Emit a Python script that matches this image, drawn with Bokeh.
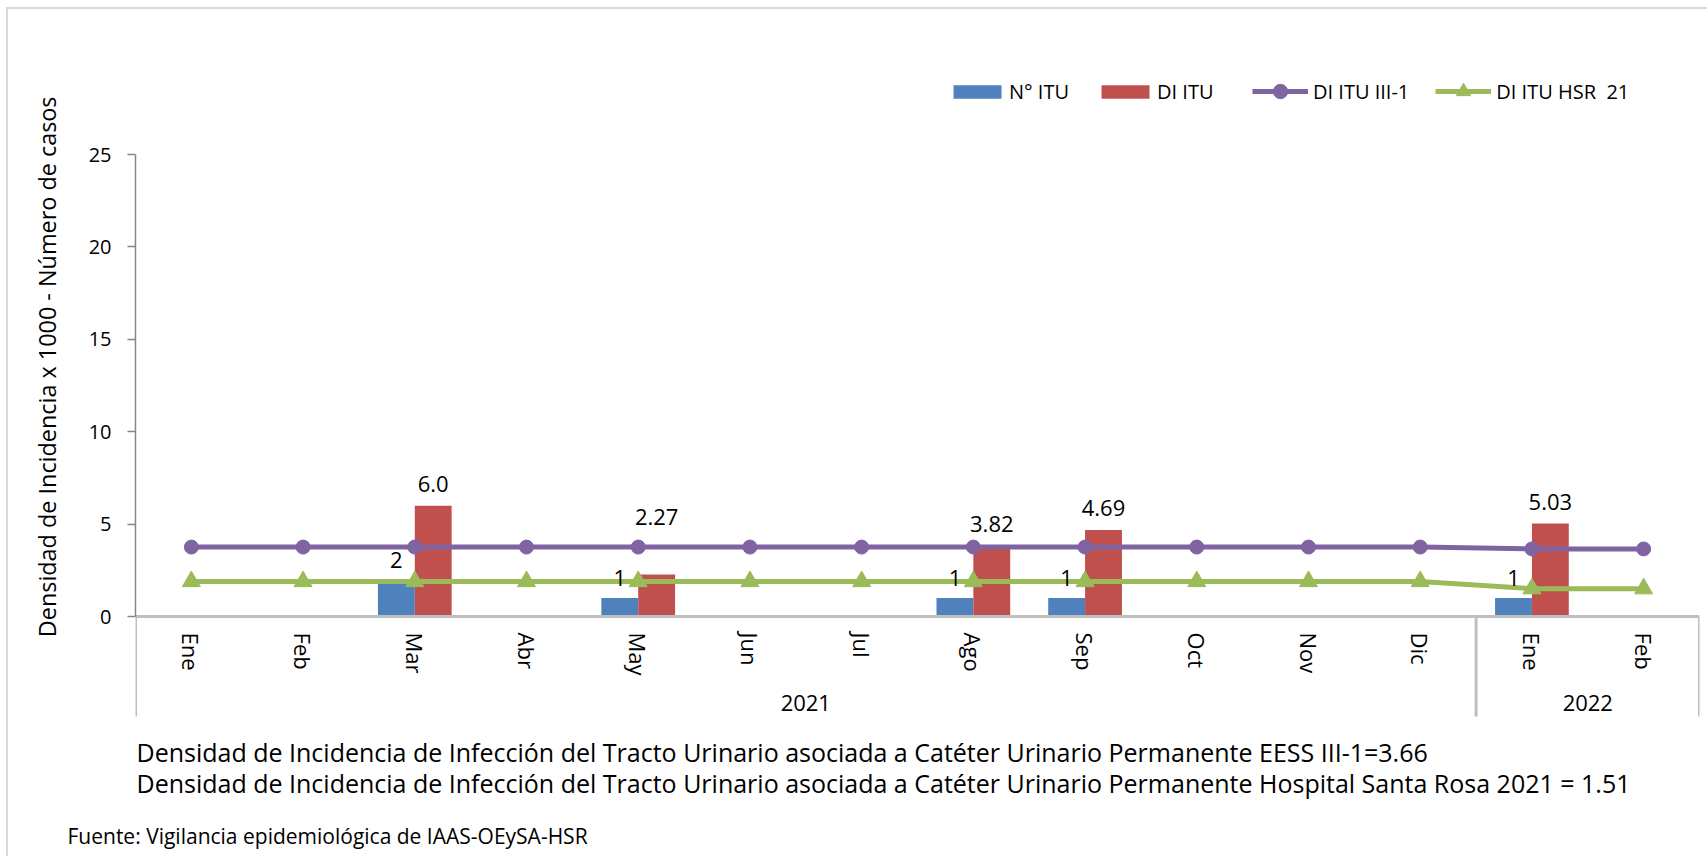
from bokeh.plotting import figure
from bokeh.models import (ColumnDataSource, FactorRange, Range1d, FixedTicker, Legend,
                          LegendItem, Label, CategoricalAxis, LinearAxis, Title)
from bokeh.transform import dodge
from bokeh.core.properties import value
from bokeh.embed import file_html
from bokeh.resources import INLINE

# ---------------- data ----------------
years = ["2021", "2021", "2021", "2021", "2021", "2021", "2021", "2021", "2021", "2021",
         "2021", "2021", "2022", "2022"]
months = ["Ene", "Feb", "Mar", "Abr", "May", "Jun", "Jul", "Ago", "Sep", "Oct", "Nov",
          "Dic", "Ene", "Feb"]
n_itu = [0, 0, 2, 0, 1, 0, 0, 1, 1, 0, 0, 0, 1, 0]
di_itu = [0, 0, 6.0, 0, 2.27, 0, 0, 3.82, 4.69, 0, 0, 0, 5.03, 0]
di_itu_label = ["", "", "6.0", "", "2.27", "", "", "3.82", "4.69", "", "", "", "5.03", ""]
di_itu_iii1 = [3.76, 3.76, 3.76, 3.76, 3.76, 3.76, 3.76, 3.76, 3.76, 3.76, 3.76, 3.76,
               3.66, 3.66]
di_itu_hsr21 = [1.90, 1.90, 1.90, 1.90, 1.90, 1.90, 1.90, 1.90, 1.90, 1.90, 1.90, 1.90,
                1.51, 1.51]
series_names = ["N° ITU", "DI ITU", "DI ITU III-1", "DI ITU HSR  21"]
y_ticks = [0, 5, 10, 15, 20, 25]
y_title = "Densidad de Incidencia x 1000 - Número de casos"
notes = [
    "Densidad de Incidencia de Infección del Tracto Urinario asociada a  Catéter Urinario Permanente  EESS III-1=3.66",
    "Densidad de Incidencia de Infección del Tracto Urinario asociada a  Catéter Urinario Permanente  Hospital Santa Rosa 2021 = 1.51",
]
source_note = "Fuente: Vigilancia epidemiológica de IAAS-OEySA-HSR"

# ---------------- layout / style ----------------
FONT = "Open Sans"
C_BLUE, C_RED, C_PURPLE, C_GREEN = "#4F81BD", "#C0504D", "#8064A2", "#9BBB59"
SEP = "#BFBFBF"
FRAME_BOTTOM_PX = 814
Y_TOP = 31.71      # frame extends above the value axis to hold the legend
Y_BOTTOM = -10.71  # frame extends below to hold the notes
Y_SEP = -5.41      # bottom of the category label block
di_label_offset = [-22, -22, -22, -22, -58, -22, -22, -22, -22, -22, -22, -22, -22, -22]

factors = list(zip(years, months))
src = ColumnDataSource(dict(x=factors, n=n_itu, di=di_itu, iii=di_itu_iii1, hsr=di_itu_hsr21))

xr = FactorRange(factors=factors, factor_padding=0, group_padding=0, subgroup_padding=0,
                 range_padding=0)
p = figure(width=1707, height=856, x_range=xr, y_range=Range1d(Y_BOTTOM, Y_TOP),
           output_backend="svg", toolbar_location=None,
           x_axis_location=None, y_axis_location=None,
           min_border_left=135, min_border_right=8, min_border_top=30,
           min_border_bottom=856 - FRAME_BOTTOM_PX)
p.outline_line_color = None
p.background_fill_color = "white"
p.border_fill_color = None
p.styles = {"background": "linear-gradient(#d9d9d9,#d9d9d9) 6px 7px / 2px 100% no-repeat, "
                          "linear-gradient(#d9d9d9,#d9d9d9) 6px 7px / 100% 2px no-repeat, white"}
p.grid.visible = False

# value axis
yaxis = LinearAxis(ticker=FixedTicker(ticks=y_ticks), bounds=(0, 25))
yaxis.axis_line_color = "#868686"
yaxis.axis_line_width = 1.5
yaxis.major_tick_line_color = "#868686"
yaxis.major_tick_line_width = 1.5
yaxis.major_tick_out = 8
yaxis.major_tick_in = 0
yaxis.minor_tick_line_color = None
yaxis.major_label_text_font = FONT
yaxis.major_label_text_font_size = "20px"
yaxis.major_label_text_color = "#000000"
yaxis.major_label_standoff = 16
p.add_layout(yaxis, "left")

# value-axis title as a left-side title so it can sit where the reference has it
p.add_layout(Title(text=y_title, align="right", offset=66, vertical_align="bottom",
                   standoff=46, text_font=FONT, text_font_size="23.4px",
                   text_font_style="normal", text_color="#000000"), "left")

# category axis at y = 0
xaxis = CategoricalAxis(fixed_location=0)
xaxis.axis_line_color = SEP
xaxis.axis_line_width = 3
xaxis.major_tick_line_color = None
xaxis.major_tick_out = 0
xaxis.major_tick_in = 0
xaxis.minor_tick_line_color = None
xaxis.separator_line_color = None
xaxis.major_label_orientation = "vertical"
xaxis.major_label_standoff = 16
xaxis.major_label_text_font = FONT
xaxis.major_label_text_font_size = "22px"
xaxis.major_label_text_color = "#000000"
xaxis.group_text_font = FONT
xaxis.group_text_font_size = "22px"
xaxis.group_text_color = "#000000"
xaxis.group_text_font_style = "normal"
p.add_layout(xaxis, "below")

# year-group separators, positions derived from the factors
bounds_x = [0]
for i in range(1, len(years)):
    if years[i] != years[i - 1]:
        bounds_x.append(i)
bounds_x.append(len(years))
p.segment(x0=bounds_x, x1=bounds_x, y0=[Y_SEP] * len(bounds_x), y1=[0] * len(bounds_x),
          line_color=SEP, line_width=3)

# bars
r_blue = p.vbar(x=dodge("x", -0.165, range=p.x_range), top="n", width=0.33, source=src,
                fill_color=C_BLUE, line_color=None)
r_red = p.vbar(x=dodge("x", 0.165, range=p.x_range), top="di", width=0.33, source=src,
               fill_color=C_RED, line_color=None)

# lines
r_pl = p.line(x="x", y="iii", source=src, line_color=C_PURPLE, line_width=5)
r_pm = p.scatter(x="x", y="iii", source=src, marker="circle", size=14,
                 fill_color=C_PURPLE, line_color=C_PURPLE)
r_gl = p.line(x="x", y="hsr", source=src, line_color=C_GREEN, line_width=5)
r_gm = p.scatter(x="x", y="hsr", source=src, marker="triangle", size=18,
                 fill_color=C_GREEN, line_color=C_GREEN)

# data labels
nsrc = ColumnDataSource(dict(
    x=[f for f, v in zip(factors, n_itu) if v > 0],
    y=[v for v in n_itu if v > 0],
    t=[str(v) for v in n_itu if v > 0]))
p.text(x=dodge("x", -0.165, range=p.x_range), y="y", text="t", source=nsrc,
       text_align="center", text_baseline="middle", y_offset=-20,
       text_font=value(FONT), text_font_size="22px", text_color="#000000")
dsrc = ColumnDataSource(dict(
    x=[f for f, v in zip(factors, di_itu) if v > 0],
    y=[v for v in di_itu if v > 0],
    t=[t for t, v in zip(di_itu_label, di_itu) if v > 0],
    off=[o for o, v in zip(di_label_offset, di_itu) if v > 0]))
p.text(x=dodge("x", 0.165, range=p.x_range), y="y", text="t", source=dsrc,
       text_align="center", text_baseline="middle", y_offset="off",
       text_font=value(FONT), text_font_size="22px", text_color="#000000")

# legends (inside the extended frame, above the value area)
leg_common = dict(orientation="horizontal", padding=0, margin=0, border_line_color=None,
                  background_fill_alpha=0, label_text_font=FONT, label_text_font_size="20px",
                  label_text_color="#000000", spacing=26)
leg_bars = Legend(items=[
    LegendItem(label=series_names[0], renderers=[r_blue]),
    LegendItem(label=series_names[1], renderers=[r_red]),
], location=(812, FRAME_BOTTOM_PX - 105), glyph_width=60, glyph_height=17,
    label_standoff=2, **leg_common)
leg_lines = Legend(items=[
    LegendItem(label=series_names[2], renderers=[r_pl, r_pm]),
    LegendItem(label=series_names[3], renderers=[r_gl, r_gm]),
], location=(1117, FRAME_BOTTOM_PX - 109), glyph_width=56, glyph_height=36,
    label_standoff=5, **leg_common)
p.add_layout(leg_bars)
p.add_layout(leg_lines)

# notes below the chart
for i, t in enumerate(notes):
    p.add_layout(Label(x=1, y=(FRAME_BOTTOM_PX - 751) - 31 * i, x_units="screen",
                       y_units="screen", text=t, text_font=FONT, text_font_size="25px",
                       text_baseline="middle", text_color="#000000"))
p.add_layout(Title(text=source_note, align="left", offset=-68, vertical_align="bottom",
                   standoff=11, text_font=FONT, text_font_size="21px",
                   text_font_style="normal", text_color="#000000"), "below")

open("out.html", "w").write(file_html(p, INLINE))
